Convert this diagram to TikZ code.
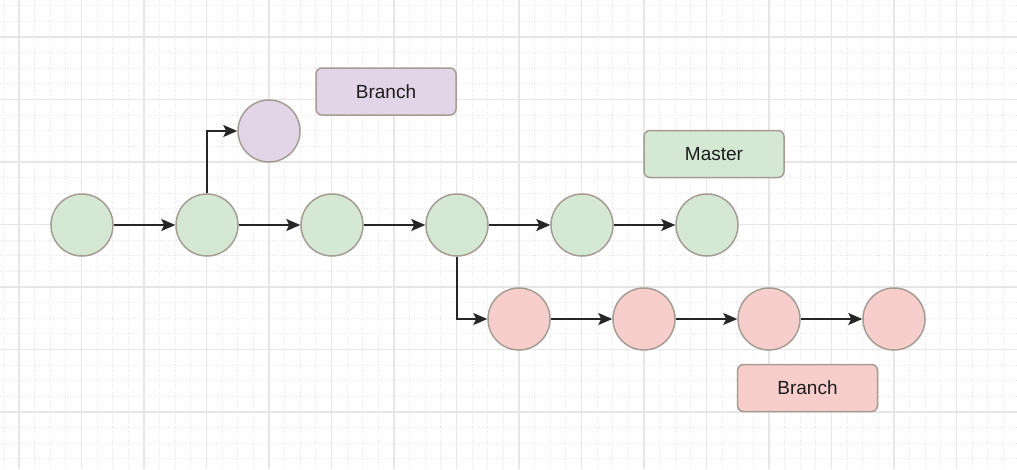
\documentclass[tikz,border=0pt]{standalone}
\usepackage{fontspec}
\setmainfont{Liberation Sans}
\usetikzlibrary{arrows.meta}
\definecolor{gfill}{HTML}{D5E8D4}
\definecolor{pfill}{HTML}{E1D5E7}
\definecolor{rfill}{HTML}{F8CECC}
\definecolor{edgec}{HTML}{A59C94}
\definecolor{arrc}{HTML}{262626}
\definecolor{textc}{HTML}{1C1C1C}
\definecolor{majorc}{HTML}{E6E6E6}
\definecolor{minorc}{HTML}{E4E4E4}
\begin{document}
\begin{tikzpicture}[x=1pt,y=-1pt,
  commit/.style={circle,draw=edgec,line width=1.5pt,minimum size=62pt,inner sep=0pt},
  label box/.style={rectangle,rounded corners=6pt,draw=edgec,line width=1.5pt,minimum width=140pt,minimum height=47pt,inner sep=0pt,font=\fontsize{19}{22}\selectfont,text=textc},
  link/.style={draw=arrc,line width=1.6pt,-{Stealth[length=14pt,width=12pt,inset=3pt]}},
  minorline/.style={draw=minorc,line width=0.8pt,dotted},
  majorline/.style={draw=majorc,line width=1.8pt}]
\fill[white] (0,0) rectangle (1017,469);
\useasboundingbox (0,0) rectangle (1017,469);
\begin{scope}
\clip (0,0) rectangle (1017,469);
\foreach \k in {0,...,65} {\draw[minorline] ({3.375+15.625*\k},0) -- ({3.375+15.625*\k},469);}
\foreach \k in {0,...,30} {\draw[minorline] (0,{5.75+15.625*\k}) -- (1017,{5.75+15.625*\k});}
\foreach \k in {0,...,16} {\draw[majorline] ({19+62.5*\k},0) -- ({19+62.5*\k},469);}
\foreach \k in {0,...,7} {\draw[majorline] (0,{37+62.5*\k}) -- (1017,{37+62.5*\k});}
\end{scope}
% main row
\node[commit,fill=gfill] (m1) at (82,225) {};
\node[commit,fill=gfill] (m2) at (207,225) {};
\node[commit,fill=gfill] (m3) at (332,225) {};
\node[commit,fill=gfill] (m4) at (457,225) {};
\node[commit,fill=gfill] (m5) at (582,225) {};
\node[commit,fill=gfill] (m6) at (707,225) {};
% purple branch
\node[commit,fill=pfill] (p1) at (269,131) {};
% red branch
\node[commit,fill=rfill] (r1) at (519,319) {};
\node[commit,fill=rfill] (r2) at (644,319) {};
\node[commit,fill=rfill] (r3) at (769,319) {};
\node[commit,fill=rfill] (r4) at (894,319) {};
% labels
\node[label box,fill=pfill] (lp) at (386,91.5) {Branch};
\node[label box,fill=gfill] (lm) at (714,154) {Master};
\node[label box,fill=rfill] (lr) at (807.5,388) {Branch};
% connectors
\draw[link] (m1) -- (m2);
\draw[link] (m2) -- (m3);
\draw[link] (m3) -- (m4);
\draw[link] (m4) -- (m5);
\draw[link] (m5) -- (m6);
\draw[link] (m2.north) |- (p1.west);
\draw[link] (m4.south) |- (r1.west);
\draw[link] (r1) -- (r2);
\draw[link] (r2) -- (r3);
\draw[link] (r3) -- (r4);
\end{tikzpicture}
\end{document}
